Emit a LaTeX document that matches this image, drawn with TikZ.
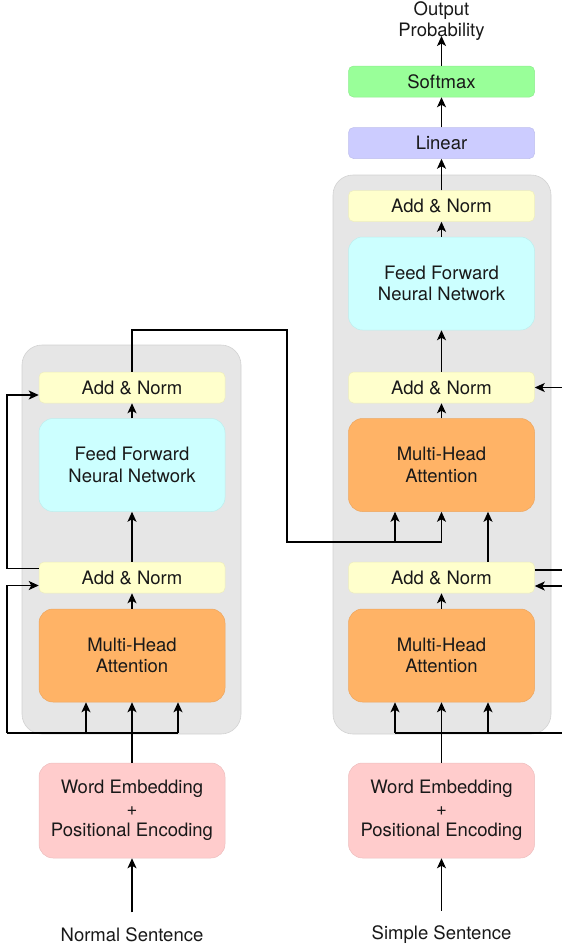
\documentclass[tikz,border=0pt]{standalone}
\usepackage{fontspec}
\setmainfont{TeX Gyre Heros}
\usetikzlibrary{arrows.meta,positioning}

\definecolor{framefill}{HTML}{E6E6E6}
\definecolor{framedraw}{HTML}{D2D2D2}
\definecolor{normfill}{HTML}{FFFFCC}
\definecolor{fffill}{HTML}{CCFFFF}
\definecolor{mhafill}{HTML}{FFB366}
\definecolor{embfill}{HTML}{FFCCCC}
\definecolor{linfill}{HTML}{CCCCFF}
\definecolor{softfill}{HTML}{99FF99}

\tikzset{
    every node/.style={font=\fontsize{18.5pt}{21.5pt}\selectfont, text=black!90},
    frame/.style={fill=framefill, draw=framedraw, line width=0.6pt, rounded corners=20pt},
    block/.style={rectangle, fill=#1, draw=#1!93!black, line width=0.5pt,
        rounded corners=5pt, minimum width=186pt, minimum height=31pt,
        inner sep=0pt, align=center},
    bigblock/.style={block=#1, minimum height=93pt, rounded corners=14pt},
    wire/.style={line width=1.3pt},
    arr/.style={wire, -{Stealth[length=10pt,width=9pt,inset=2.5pt]}}
}

\begin{document}
\begin{tikzpicture}[x=1pt,y=-1pt]
    \useasboundingbox (0,0) rectangle (562,948);

    % Frames of the two stacks
    \draw[frame] (22,345) rectangle (241,734);
    \draw[frame] (333,175) rectangle (551,734);

    % Encoder stack (left)
    \node[bigblock=mhafill] (L-mha) at (132,655.5) {Multi-Head\\Attention};
    \node[block=normfill] (L-add1) at (132,577.5) {Add \& Norm};
    \node[bigblock=fffill] (L-ff) at (132,465) {Feed Forward\\Neural Network};
    \node[block=normfill] (L-add2) at (132,387.5) {Add \& Norm};
    \node[bigblock=embfill, minimum height=95pt] (L-emb) at (132,810.5)
        {Word Embedding\\+\\Positional Encoding};
    \node (L-src) at (132,935) {Normal Sentence};

    % Decoder stack (right)
    \node[bigblock=mhafill] (R-mha1) at (441.5,655.5) {Multi-Head\\Attention};
    \node[block=normfill] (R-add1) at (441.5,577.5) {Add \& Norm};
    \node[bigblock=mhafill] (R-mha2) at (441.5,465) {Multi-Head\\Attention};
    \node[block=normfill] (R-add2) at (441.5,387.5) {Add \& Norm};
    \node[bigblock=fffill] (R-ff) at (441.5,283.5) {Feed Forward\\Neural Network};
    \node[block=normfill] (R-add3) at (441.5,206) {Add \& Norm};
    \node[block=linfill] (R-lin) at (441.5,143) {Linear};
    \node[block=softfill] (R-soft) at (441.5,81.5) {Softmax};
    \node[align=center, inner sep=0pt] (out) at (441.5,21) {Output\\Probability};
    \node[bigblock=embfill, minimum height=95pt] (R-emb) at (441.5,810.5)
        {Word Embedding\\+\\Positional Encoding};
    \node (R-src) at (441.5,935) {Simple Sentence};

    % Encoder connections
    \coordinate (L-bus) at (7,733);
    \coordinate (L-res) at (7,395);
    \coordinate (L-q) at ([xshift=-46pt]L-mha.south);
    \coordinate (L-v) at ([xshift=46pt]L-mha.south);
    \draw[arr] ([yshift=12pt]L-src.north) -- (L-emb);
    \draw[arr] (L-emb) -- (L-mha);
    \draw[wire] (L-bus) -- (L-v |- L-bus);
    \foreach \p in {L-q,L-v} {
        \draw[arr] (\p |- L-bus) -- (\p);
    }
    \draw[arr] (L-bus) |- ([yshift=-8pt]L-add1.west);
    \draw[arr] (L-mha) -- (L-add1);
    \draw[arr] (L-add1) -- (L-ff);
    \draw[arr] (L-ff) -- (L-add2);
    \draw[arr] ([yshift=9pt]L-add1.west) -| (L-res) -- (L-res -| L-add2.west);

    % Encoder output into the decoder
    \coordinate (X-top) at (287,330);
    \coordinate (X-bot) at (287,542);
    \coordinate (R-q2) at ([xshift=-46.5pt]R-mha2.south);
    \coordinate (R-v2) at ([xshift=46.5pt]R-mha2.south);
    \draw[arr] (L-add2.north) |- (X-top) -- (X-bot) -| (R-mha2.south);
    \draw[arr] (R-q2 |- X-bot) -- (R-q2);

    % Decoder connections
    \coordinate (R-bus) at (562,733);
    \coordinate (R-skip1) at (562,570);
    \coordinate (R-res1) at (562,586);
    \coordinate (R-res2) at (562,387.5);
    \coordinate (R-q1) at ([xshift=-46.5pt]R-mha1.south);
    \coordinate (R-v1) at ([xshift=46.5pt]R-mha1.south);
    \draw[arr] ([yshift=12pt]R-src.north) -- (R-emb);
    \draw[arr] (R-emb) -- (R-mha1);
    \draw[wire] (R-bus) -- (R-q1 |- R-bus);
    \foreach \p in {R-q1,R-v1} {
        \draw[arr] (\p |- R-bus) -- (\p);
    }
    \draw[arr] (R-mha1) -- (R-add1);
    \draw[arr] (R-res1) -- (R-res1 -| R-add1.east);
    \draw[wire] (R-skip1 -| R-add1.east) -- (R-skip1);
    \draw[arr] (R-v2 |- R-add1.north) -- (R-v2);
    \draw[arr] (R-mha2) -- (R-add2);
    \draw[arr] (R-res2) -- (R-add2.east);
    \draw[arr] (R-add2) -- (R-ff);
    \draw[arr] (R-ff) -- (R-add3);
    \draw[arr] (R-add3) -- (R-lin);
    \draw[arr] (R-lin) -- (R-soft);
    \coordinate (out-tip) at (441.5,36);
    \draw[arr] (R-soft) -- (out-tip);
\end{tikzpicture}
\end{document}
